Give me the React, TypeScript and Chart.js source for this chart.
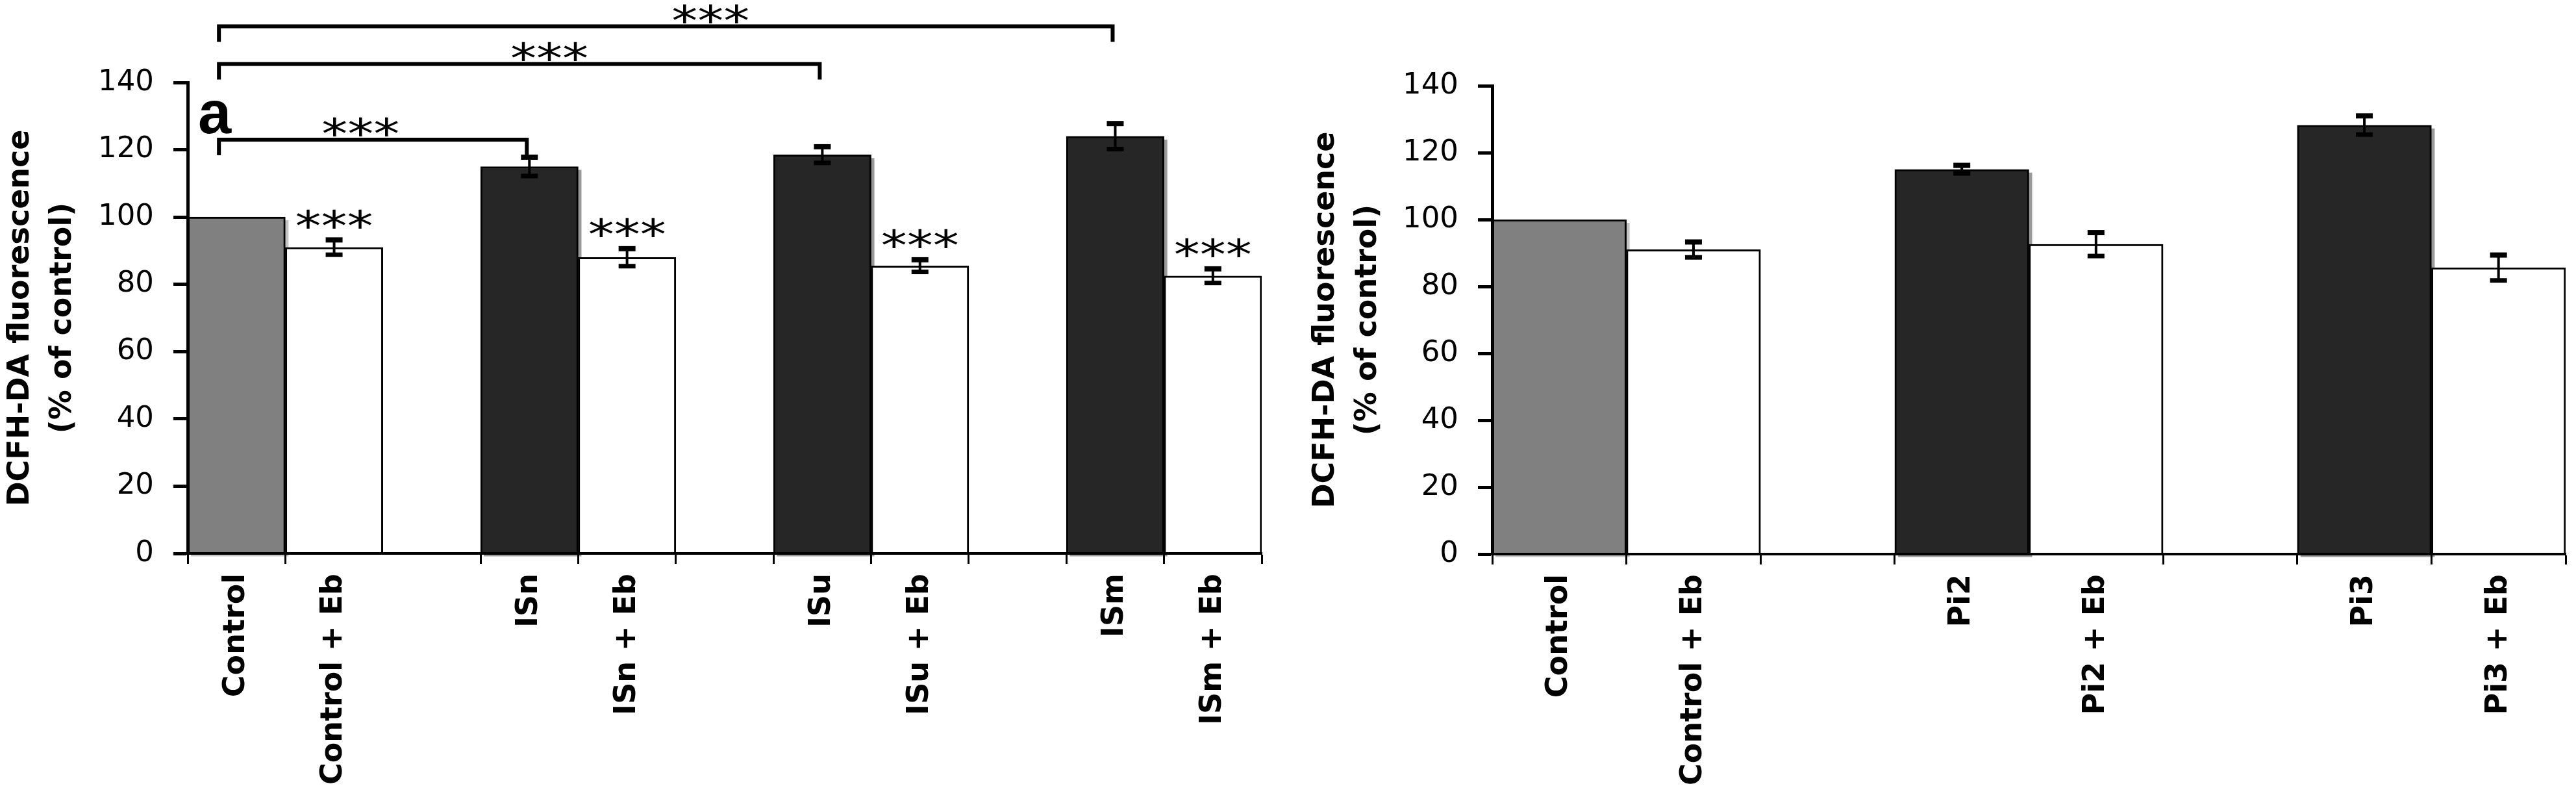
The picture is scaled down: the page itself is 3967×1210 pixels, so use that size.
import React, { useEffect, useRef } from 'react';
import { Chart, registerables } from 'chart.js';

Chart.register(...registerables);

// ---------- data ----------
const leftCategories = ['Control', 'Control + Eb', '', 'ISn', 'ISn + Eb', '', 'ISu', 'ISu + Eb', '', 'ISm', 'ISm + Eb'];
const leftValues = [100, 91, null, 115, 88, null, 118.5, 85.5, null, 124, 82.5];
const leftErrors = [null, 2.2, null, 2.8, 2.6, null, 2.4, 1.8, null, 3.8, 2.1];
const leftStars = ['', '***', '', '', '***', '', '', '***', '', '', '***'];

const bracketFrom = [0, 0, 0];
const bracketTo = [3, 6, 9];
const bracketLevel = [123, 145.5, 156.7];
const bracketLabels = ['***', '***', '***'];

const rightCategories = ['Control', 'Control + Eb', '', 'Pi2', 'Pi2 + Eb', '', 'Pi3', 'Pi3 + Eb'];
const rightValues = [100, 91, null, 115, 92.6, null, 128.2, 85.6];
const rightErrors = [null, 2.3, null, 1.2, 3.5, null, 2.8, 3.8];
const rightStars = ['', '', '', '', '', '', '', ''];

const yTickValues = [0, 20, 40, 60, 80, 100, 120, 140];
const yTitle = ['DCFH-DA fluorescence', '(% of control)'];
const panelLetter = 'a';

// ---------- style ----------
const H = 1210;
const LEFT_W = 1990;
const RIGHT_W = 1977;
const bracketStarFrac = [0.46, 0.55, 0.55];

function barColor(label: string) {
  if (label === 'Control') return '#808080';
  if (label.includes('+ Eb')) return '#ffffff';
  return '#262626';
}
function shadowColor(label: string) {
  if (label === 'Control') return '#c4c4c4';
  if (label.includes('+ Eb')) return null;
  return '#9a9a9a';
}

function makePlugin(cfg: any) {
  return {
    id: 'annot',
    beforeDatasetsDraw(chart: any) {
      const ctx = chart.ctx;
      const meta = chart.getDatasetMeta(0);
      ctx.save();
      meta.data.forEach((el: any, i: number) => {
        const v = cfg.values[i];
        if (v == null) return;
        const c = shadowColor(cfg.categories[i]);
        if (!c) return;
        const w = el.width;
        ctx.fillStyle = c;
        ctx.fillRect(el.x - w / 2 + 5, el.y + 5, w, el.base - el.y);
      });
      ctx.restore();
    },
    afterDraw(chart: any) {
      const ctx = chart.ctx;
      const y = chart.scales.y;
      const x = chart.scales.x;
      const meta = chart.getDatasetMeta(0);
      ctx.save();
      const starFont = '80px "DejaVu Sans"';
      const drawStars = (text: string, cx: number, bottom: number) => {
        ctx.save();
        ctx.font = starFont;
        ctx.textAlign = 'center';
        ctx.textBaseline = 'alphabetic';
        const m = ctx.measureText(text);
        ctx.fillStyle = '#000';
        ctx.translate(cx, bottom);
        ctx.scale(1, 0.8);
        ctx.fillText(text, 0, -m.actualBoundingBoxDescent);
        ctx.restore();
      };
      // error bars
      meta.data.forEach((el: any, i: number) => {
        const v = cfg.values[i];
        const e = cfg.errors[i];
        if (v == null) return;
        let top = el.y;
        if (e != null) {
          top = y.getPixelForValue(v + e);
          const bot = y.getPixelForValue(v - e);
          ctx.strokeStyle = '#000';
          ctx.lineWidth = 4;
          ctx.beginPath();
          ctx.moveTo(el.x, top);
          ctx.lineTo(el.x, bot);
          ctx.stroke();
          ctx.fillStyle = '#000';
          ctx.fillRect(el.x - 13, top - 4, 26, 8);
          ctx.fillRect(el.x - 13, bot - 3.5, 26, 7);
        }
        const s = cfg.stars[i];
        if (s) drawStars(s, el.x, top - 18);
      });
      // brackets
      (cfg.brackets || []).forEach((b: any, k: number) => {
        const x1 = x.getPixelForValue(b.from) - 27;
        const x2 = x.getPixelForValue(b.to) - 4;
        const by = y.getPixelForValue(b.level);
        ctx.strokeStyle = '#000';
        ctx.lineWidth = 6;
        ctx.lineJoin = 'miter';
        ctx.beginPath();
        ctx.moveTo(x1, by + 24);
        ctx.lineTo(x1, by);
        ctx.lineTo(x2, by);
        ctx.lineTo(x2, by + 24);
        ctx.stroke();
        drawStars(b.label, x1 + bracketStarFrac[k] * (x2 - x1), by - 5);
      });
      if (cfg.letter) {
        ctx.font = 'bold 92px "Liberation Sans"';
        ctx.textAlign = 'left';
        ctx.textBaseline = 'alphabetic';
        ctx.fillStyle = '#000';
        ctx.fillText(cfg.letter, chart.chartArea.left + 16, chart.chartArea.top + 78);
      }
      ctx.restore();
    },
  };
}

function makeConfig(cfg: any) {
  return {
    type: 'bar',
    data: {
      labels: cfg.categories,
      datasets: [
        {
          data: cfg.values,
          backgroundColor: cfg.categories.map(barColor),
          borderColor: '#000',
          borderWidth: 3,
          barPercentage: 1,
          categoryPercentage: 1,
        },
      ],
    },
    options: {
      animation: false,
      responsive: false,
      devicePixelRatio: 1,
      layout: { padding: cfg.padding },
      plugins: { legend: { display: false }, tooltip: { enabled: false } },
      scales: {
        x: {
          offset: true,
          ticks: {
            autoSkip: false,
            minRotation: 90,
            maxRotation: 90,
            padding: 15,
            color: '#000',
            font: { family: 'DejaVu Sans', weight: 'bold', size: 46 },
          },
          grid: {
            offset: true,
            drawOnChartArea: false,
            tickLength: 16,
            tickWidth: 3,
            tickColor: (c: any) => (c.index === cfg.hiddenTick ? 'rgba(0,0,0,0)' : '#000'),
            z: 1,
          },
          border: { display: true, color: '#000', width: 4, z: 1 },
          afterFit: (s: any) => {
            s.height = cfg.xHeight;
          },
        },
        y: {
          min: 0,
          max: 140,
          afterBuildTicks: (s: any) => {
            s.ticks = yTickValues.map((v) => ({ value: v }));
          },
          ticks: {
            padding: 30,
            color: '#000',
            font: { family: 'DejaVu Sans', size: 45 },
          },
          grid: {
            drawOnChartArea: false,
            tickLength: 22,
            tickWidth: 5,
            tickColor: '#000',
            z: 1,
          },
          border: { display: true, color: '#000', width: 5, z: 1 },
          title: {
            display: true,
            text: yTitle,
            color: '#000',
            font: { family: 'DejaVu Sans', weight: 'bold', size: 46, lineHeight: 1.4 },
            padding: { top: cfg.titlePad, bottom: 0 },
          },
          afterFit: (s: any) => {
            s.width = cfg.yWidth;
          },
        },
      },
    },
    plugins: [makePlugin(cfg)],
  };
}

export default function App() {
  const leftRef = useRef<HTMLCanvasElement>(null);
  const rightRef = useRef<HTMLCanvasElement>(null);

  useEffect(() => {
    document.body.style.margin = '0';
    const leftCfg = {
      categories: leftCategories,
      values: leftValues,
      errors: leftErrors,
      stars: leftStars,
      brackets: bracketFrom.map((f, i) => ({ from: f, to: bracketTo[i], level: bracketLevel[i], label: bracketLabels[i] })),
      letter: panelLetter,
      padding: { left: 0, top: 127, right: LEFT_W - 1943, bottom: 0 },
      xHeight: H - 852,
      yWidth: 289,
      titlePad: 0,
      hiddenTick: 2,
    };
    const rightCfg = {
      categories: rightCategories,
      values: rightValues,
      errors: rightErrors,
      stars: rightStars,
      brackets: [],
      letter: '',
      padding: { left: 0, top: 132, right: RIGHT_W - 1961, bottom: 0 },
      xHeight: H - 853,
      yWidth: 308,
      titlePad: 20,
      hiddenTick: 4,
    };
    const c1 = new Chart(leftRef.current as HTMLCanvasElement, makeConfig(leftCfg) as any);
    const c2 = new Chart(rightRef.current as HTMLCanvasElement, makeConfig(rightCfg) as any);
    return () => {
      c1.destroy();
      c2.destroy();
    };
  }, []);

  return (
    <div style={{ display: 'flex', width: LEFT_W + RIGHT_W, height: H, background: '#fff' }}>
      <canvas ref={leftRef} width={LEFT_W} height={H} style={{ width: LEFT_W, height: H, display: 'block' }} />
      <canvas ref={rightRef} width={RIGHT_W} height={H} style={{ width: RIGHT_W, height: H, display: 'block' }} />
    </div>
  );
}
